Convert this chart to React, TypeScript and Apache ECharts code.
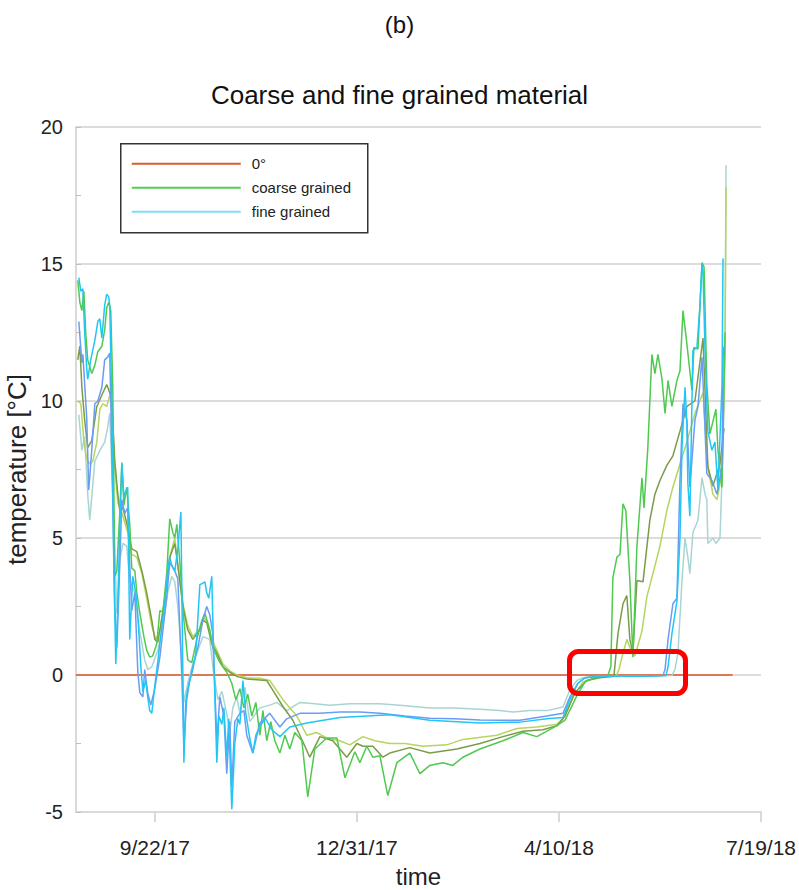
import React, { useEffect, useRef } from "react";
import * as echarts from "echarts";

// x values are days counted from 9/22/17
const tickDays = [0, 100, 200, 300];
const tickLabels = ["9/22/17", "12/31/17", "4/10/18", "7/19/18"];

const zeroLine: [number, number][] = [[-39, 0], [286, 0]];

const coarseGreen: [number, number][] = [
  [-38.1, 14.4], [-37.1, 13.6], [-36.1, 13.3], [-35.1, 14.0], [-34.2, 12.5], [-33.2, 11.5], [-31.2, 11.0], [-29.7, 11.3],
  [-28.2, 11.8], [-26.2, 12.0], [-24.8, 12.6], [-23.8, 13.4], [-22.8, 13.6], [-21.8, 13.3], [-20.8, 10.5], [-19.8, 3.6],
  [-18.8, 3.8], [-17.3, 6.0], [-16.3, 7.75], [-15.3, 6.2], [-13.9, 6.85], [-12.4, 5.5], [-11.4, 3.9], [-9.9, 3.8],
  [-8.9, 3.0], [-7.4, 2.25], [-5.4, 1.4], [-4.0, 0.9], [-2.5, 0.65], [-1.0, 0.7], [1.0, 1.15], [2.5, 2.35], [4.0, 2.3],
  [5.9, 3.7], [7.4, 5.7], [8.9, 5.2], [9.9, 5.0], [10.9, 5.5], [12.4, 4.1], [14.4, 2.0], [16.3, 0.55], [18.3, 0.45],
  [20.8, 1.3], [23.3, 2.0], [24.8, 2.25], [27.2, 1.65], [28.7, 1.0], [32.2, 0.45], [35.6, 0.1], [38.1, -0.3],
  [40.1, -0.9], [42.1, -0.5], [44.1, -1.2], [46.0, -0.7], [48.0, -1.5], [50.0, -1.0], [52.0, -2.2], [53.5, -1.3],
  [55.4, -2.4], [57.4, -1.7], [59.4, -2.4], [61.9, -2.85], [64.4, -2.2], [66.8, -2.7], [69.3, -2.1], [72.8, -2.4],
  [75.7, -4.45], [79.2, -2.7], [85.1, -2.3], [90.1, -2.3], [94.1, -3.75], [99.0, -2.8], [101.5, -3.2], [104.9, -2.6],
  [107.9, -3.0], [111.4, -2.95], [115.3, -4.4], [119.8, -3.2], [126.2, -2.85], [131.2, -3.6], [136.1, -3.3],
  [142.6, -3.2], [147.5, -3.3], [152.5, -3.0], [160.9, -2.7], [172.3, -2.4], [182.2, -2.1], [189.1, -2.25],
  [199.0, -1.85], [203.0, -1.65], [208.9, -0.75], [212.9, -0.25], [217.8, -0.1], [224.2, -0.02], [225.7, 0.3],
  [226.7, 3.55], [228.7, 4.3], [230.2, 4.4], [231.7, 6.25], [233.1, 6.0], [235.1, 3.45], [236.6, 0.65], [238.6, 4.7],
  [241.1, 7.2], [242.1, 6.1], [244.0, 8.3], [246.0, 11.7], [247.5, 11.0], [249.0, 11.7], [251.0, 10.8], [252.5, 9.55],
  [254.0, 10.75], [255.9, 9.8], [258.4, 10.75], [259.9, 11.1], [261.4, 13.3], [263.3, 12.1], [265.8, 10.4],
  [266.8, 11.95], [268.8, 11.9], [270.8, 15.05], [271.8, 14.9], [273.2, 10.6], [274.7, 8.8], [277.7, 9.7],
  [278.7, 8.2], [280.7, 6.85], [281.7, 10.6], [282.2, 12.5],
];

const coarseOlive: [number, number][] = [
  [-38.1, 11.5], [-37.1, 12.0], [-36.1, 10.5], [-34.7, 9.3], [-33.2, 8.3], [-31.2, 8.55], [-28.7, 9.8], [-25.7, 10.3],
  [-23.8, 10.6], [-22.3, 10.3], [-21.3, 10.0], [-19.8, 7.8], [-18.3, 6.6], [-17.3, 6.0], [-15.8, 6.1], [-13.4, 5.4],
  [-11.4, 4.6], [-8.9, 4.5], [-6.4, 3.8], [-4.0, 3.0], [-1.5, 2.0], [0, 1.3], [1.5, 1.2], [4.0, 2.3], [5.9, 3.3],
  [7.4, 4.3], [9.9, 4.8], [11.4, 4.0], [13.9, 2.5], [16.3, 1.65], [18.8, 1.3], [22.3, 1.65], [23.8, 2.0], [25.7, 1.9],
  [28.2, 1.15], [30.7, 0.8], [33.7, 0.3], [37.1, 0.1], [40.6, -0.05], [45.5, -0.15], [52.0, -0.18], [55.4, -0.2],
  [58.4, -0.55], [63.4, -1.15], [68.3, -1.65], [71.8, -2.2], [74.3, -2.6], [76.7, -3.0], [81.7, -2.25], [88.1, -2.4],
  [95.0, -3.0], [100.0, -2.5], [103.0, -2.6], [107.9, -2.6], [112.9, -3.0], [116.3, -2.85], [126.2, -2.65],
  [136.1, -2.85], [149.5, -2.7], [160.9, -2.5], [172.3, -2.25], [182.2, -2.05], [192.1, -2.0], [199.0, -1.85],
  [203.0, -1.5], [207.9, -0.65], [213.8, -0.2], [220.3, -0.1], [227.2, -0.05], [229.2, 1.5], [231.7, 2.6],
  [233.6, 2.9], [235.1, 1.3], [236.6, 0.8], [238.6, 3.45], [241.6, 3.4], [245.0, 5.65], [247.5, 6.6], [250.0, 7.1],
  [253.4, 7.65], [256.4, 8.0], [259.9, 8.9], [263.3, 9.8], [267.3, 10.0], [271.3, 12.3], [273.7, 7.6], [276.2, 6.9],
  [279.7, 7.7], [281.7, 9.0],
];

const coarseYellow: [number, number][] = [
  [-38.1, 10.0], [-36.6, 9.9], [-35.1, 8.5], [-33.7, 7.9], [-32.2, 7.7], [-30.7, 7.8], [-28.7, 8.5], [-27.2, 9.7],
  [-25.7, 9.9], [-23.8, 9.8], [-22.3, 10.2], [-21.3, 9.9], [-19.8, 7.5], [-18.3, 6.3], [-15.8, 5.8], [-13.4, 5.2],
  [-11.4, 4.4], [-8.9, 4.3], [-6.4, 3.7], [-4.0, 2.8], [-1.5, 1.8], [0.5, 1.3], [2.5, 1.6], [5.0, 2.8], [7.4, 4.3],
  [9.9, 5.0], [11.4, 4.0], [13.9, 2.6], [16.3, 1.8], [18.8, 1.4], [22.3, 1.7], [24.3, 2.1], [26.2, 1.9], [28.2, 1.3],
  [30.7, 0.9], [33.7, 0.4], [37.1, 0.15], [40.6, 0.0], [45.5, -0.1], [52.0, -0.12], [56.9, -0.2], [63.4, -0.9],
  [70.3, -1.5], [75.2, -2.2], [80.2, -2.1], [85.1, -2.3], [91.6, -2.4], [96.5, -2.55], [103.0, -2.25], [108.9, -2.4],
  [116.3, -2.5], [123.8, -2.5], [132.7, -2.6], [144.5, -2.55], [152.5, -2.35], [169.3, -2.2], [179.2, -1.95],
  [189.1, -1.9], [199.0, -1.8], [202.0, -1.6], [206.9, -0.8], [211.9, -0.25], [217.8, -0.1], [228.2, -0.05],
  [229.7, 0.2], [231.2, 0.65], [233.6, 1.3], [236.1, 0.8], [237.6, 0.7], [241.1, 1.6], [243.5, 2.85], [246.5, 3.7],
  [250.0, 4.7], [253.4, 6.0], [256.4, 6.85], [259.9, 7.7], [263.3, 8.5], [267.3, 9.55], [271.3, 10.3], [273.7, 7.6],
  [276.2, 6.6], [278.2, 6.4], [280.7, 7.35], [282.2, 12.0], [282.7, 17.8],
];

const fineTeal: [number, number][] = [
  [-37.6, 9.5], [-36.1, 8.2], [-34.7, 8.7], [-33.2, 6.6], [-32.2, 5.65], [-31.2, 6.5], [-29.7, 7.8], [-27.2, 8.2],
  [-24.8, 8.5], [-23.3, 9.05], [-22.3, 9.55], [-20.8, 6.6], [-18.8, 2.25], [-17.3, 4.2], [-15.8, 4.8], [-13.9, 4.7],
  [-12.4, 3.45], [-9.9, 3.0], [-8.4, 2.0], [-6.4, 1.15], [-5.0, 0.55], [-3.5, 0.2], [-1.5, 0.3], [1.5, 0.9], [4.0, 1.8],
  [6.4, 3.0], [8.4, 3.6], [9.9, 3.4], [11.4, 2.5], [13.4, 0.5], [14.4, -1.0], [16.3, -0.3], [18.8, 0.4], [21.3, 0.9],
  [23.8, 1.4], [27.2, 1.3], [28.7, 0.3], [31.2, -0.9], [33.2, -0.6], [35.6, -1.4], [37.1, -2.1], [38.6, -1.2],
  [40.6, -0.8], [42.1, -1.4], [44.6, -0.45], [47.0, -1.7], [50.5, -1.35], [52.0, -1.2], [56.9, -1.1], [60.4, -1.0],
  [65.3, -1.3], [71.8, -1.0], [79.2, -1.05], [86.6, -1.1], [96.5, -1.05], [111.4, -1.05], [121.3, -1.1],
  [136.1, -1.2], [148.5, -1.2], [160.9, -1.25], [170.8, -1.3], [177.2, -1.35], [185.6, -1.3], [194.0, -1.3],
  [202.0, -1.17], [205.4, -0.55], [208.9, -0.2], [211.9, -0.1], [220.3, -0.05], [240.1, -0.05], [255.9, -0.02],
  [257.4, 0.2], [258.9, 0.8], [260.9, 3.45], [262.4, 5.0], [263.8, 4.3], [264.8, 3.7], [266.3, 5.2], [268.8, 5.65],
  [270.8, 7.2], [272.3, 6.6], [273.2, 6.4], [273.7, 4.8], [276.2, 5.0], [277.7, 4.8], [279.7, 5.0], [281.2, 8.3],
  [282.2, 12.0], [282.7, 18.6],
];

const fineBlue: [number, number][] = [
  [-37.6, 12.9], [-36.1, 11.4], [-35.6, 11.7], [-33.7, 9.4], [-32.7, 6.75], [-31.2, 8.2], [-29.7, 9.9], [-28.2, 10.0],
  [-26.2, 10.5], [-24.8, 11.5], [-23.3, 11.6], [-22.3, 11.75], [-21.3, 8.2], [-19.8, 2.5], [-18.8, 1.0], [-17.8, 3.0],
  [-16.3, 6.4], [-14.9, 5.9], [-13.4, 6.1], [-12.4, 4.0], [-11.4, 2.35], [-9.9, 3.0], [-8.4, 0.1], [-7.4, -0.65],
  [-5.9, -0.8], [-5.0, 0.2], [-3.5, -0.65], [-2.0, -1.1], [0, -0.5], [2.5, 0.65], [5.9, 2.85], [7.4, 4.1], [9.9, 3.8],
  [11.4, 3.5], [13.4, -0.1], [14.4, -2.6], [15.8, -0.9], [17.3, -0.2], [18.8, 0.3], [21.3, 1.0], [23.8, 2.0],
  [25.7, 2.5], [27.2, 2.2], [28.7, 1.5], [30.7, -2.4], [32.2, -0.8], [34.2, -1.5], [35.6, -3.6], [37.1, -1.7],
  [38.1, -4.1], [39.6, -1.7], [42.1, -1.4], [44.1, -1.3], [45.5, -2.2], [48.5, -2.85], [52.0, -1.75], [56.9, -1.4],
  [61.9, -1.9], [65.3, -1.6], [71.8, -1.4], [81.7, -1.4], [91.6, -1.35], [101.5, -1.35], [111.4, -1.4], [123.8, -1.5],
  [136.1, -1.58], [148.5, -1.6], [160.9, -1.64], [170.8, -1.65], [180.7, -1.65], [194.0, -1.5], [202.0, -1.4],
  [205.4, -0.8], [209.4, -0.3], [212.9, -0.1], [220.3, -0.05], [240.1, -0.05], [251.5, -0.02], [252.5, 0.2],
  [254.0, 1.3], [256.4, 2.6], [258.4, 2.8], [259.9, 7.1], [261.4, 9.9], [263.3, 9.3], [264.8, 6.85], [267.3, 9.3],
  [268.8, 9.8], [270.8, 11.6], [273.2, 7.35], [275.7, 7.1], [278.2, 6.6], [280.7, 7.6], [281.2, 11.5], [281.7, 12.0],
];

const fineCyan: [number, number][] = [
  [-37.6, 14.5], [-36.6, 14.0], [-35.6, 14.1], [-34.7, 12.5], [-33.7, 11.2], [-33.2, 10.8], [-31.7, 11.5],
  [-29.7, 12.2], [-28.2, 12.9], [-27.2, 13.0], [-26.2, 12.3], [-24.8, 13.5], [-23.8, 13.9], [-22.8, 13.8],
  [-22.3, 13.5], [-21.3, 10.0], [-20.3, 4.0], [-19.3, 0.4], [-18.3, 2.5], [-17.3, 5.5], [-16.3, 7.7], [-15.3, 6.5],
  [-14.4, 6.7], [-13.4, 6.85], [-12.4, 1.3], [-10.9, 3.6], [-9.4, 3.0], [-8.4, 2.2], [-6.9, 0.3], [-5.9, -0.6],
  [-4.5, -0.2], [-3.5, -0.8], [-2.5, -1.3], [-1.5, -1.4], [0, -0.4], [1.5, 0.5], [3.5, 1.8], [5.0, 2.6], [6.4, 3.8],
  [7.4, 4.3], [8.4, 4.0], [9.9, 3.8], [11.4, 4.6], [12.9, 5.95], [13.4, 3.0], [14.4, -3.2], [15.3, -1.0],
  [16.3, -0.5], [17.3, -0.2], [18.8, 0.2], [20.3, 0.8], [22.3, 3.3], [23.8, 3.35], [24.8, 3.4], [25.7, 3.0],
  [26.7, 2.8], [28.2, 3.6], [29.2, 0.5], [30.7, -3.2], [31.7, -1.5], [33.2, -1.8], [34.2, -1.2], [35.6, -3.0],
  [36.6, -1.6], [38.1, -4.9], [39.6, -2.5], [41.1, -1.6], [42.1, -1.8], [43.6, -0.2], [45.0, -1.4], [47.0, -2.3],
  [48.5, -2.85], [50.0, -2.2], [52.0, -1.85], [54.9, -1.6], [57.9, -2.0], [61.9, -2.25], [66.8, -1.9],
  [75.2, -1.75], [91.6, -1.55], [116.3, -1.45], [136.1, -1.65], [160.9, -1.75], [180.7, -1.72], [194.0, -1.6],
  [202.0, -1.55], [205.4, -0.9], [209.4, -0.3], [212.9, -0.1], [220.3, -0.05], [240.1, -0.05], [253.0, -0.02],
  [254.0, 0.3], [255.9, 1.5], [258.4, 2.7], [259.9, 5.0], [260.9, 8.3], [262.4, 10.5], [263.3, 9.2], [263.8, 7.0],
  [264.8, 5.8], [266.3, 11.85], [268.3, 11.95], [269.8, 13.5], [270.8, 15.0], [271.3, 14.7], [272.3, 11.85],
  [273.7, 8.9], [275.7, 8.2], [277.2, 8.5], [278.7, 6.75], [280.7, 10.6], [281.2, 15.2],
];

const FONT = "'Liberation Sans', Arial, sans-serif";

function line(name: string, data: [number, number][], color: string, width = 1.5) {
  return {
    type: "line",
    name,
    data,
    symbol: "none",
    showSymbol: false,
    silent: true,
    lineStyle: { color, width },
    itemStyle: { color },
  };
}

export default function App() {
  const ref = useRef<HTMLDivElement>(null);

  useEffect(() => {
    if (!ref.current) return;
    const chart = echarts.init(ref.current, undefined, { renderer: "svg" });
    const legendItems = [
      { label: "0°", color: "#dc5a2c" },
      { label: "coarse grained", color: "#55cc55" },
      { label: "fine grained", color: "#7fdcfa" },
    ];
    chart.setOption({
      animation: false,
      backgroundColor: "#ffffff",
      textStyle: { fontFamily: FONT },
      title: [
        {
          text: "(b)",
          left: "center",
          top: 7,
          textStyle: { fontSize: 24, fontWeight: "normal", color: "#111", fontFamily: FONT },
        },
        {
          text: "Coarse and fine grained material",
          left: "center",
          top: 77,
          textStyle: { fontSize: 26, fontWeight: "normal", color: "#111", fontFamily: FONT },
        },
      ],
      grid: {
        left: 76,
        right: 38,
        top: 127,
        bottom: 78,
        containLabel: false,
        outerBoundsMode: "none",
      },
      xAxis: {
        type: "value",
        min: -39,
        max: 300,
        name: "time",
        nameLocation: "middle",
        nameGap: 52,
        nameTextStyle: { fontSize: 24, color: "#222", fontFamily: FONT },
        axisLine: { show: true, onZero: false, lineStyle: { color: "#d9d9d9", width: 2 } },
        axisTick: { show: true, customValues: tickDays, length: 10, lineStyle: { color: "#d9d9d9", width: 2 } },
        axisLabel: {
          customValues: tickDays,
          formatter: (v: number) => tickLabels[tickDays.indexOf(Math.round(v))] ?? "",
          margin: 25,
          fontSize: 21,
          color: "#222",
          fontFamily: FONT,
        },
        splitLine: { show: false },
      },
      yAxis: {
        type: "value",
        min: -5,
        max: 20,
        interval: 5,
        name: "temperature [°C]",
        nameLocation: "middle",
        nameGap: 43,
        nameTextStyle: { fontSize: 26, color: "#222", fontFamily: FONT },
        axisLine: { show: true, onZero: false, lineStyle: { color: "#d9d9d9", width: 2 } },
        axisTick: { show: true, inside: true, length: 5, lineStyle: { color: "#bfbfbf", width: 1 } },
        minorTick: { show: true, splitNumber: 2, length: 5, lineStyle: { color: "#bfbfbf", width: 1 } },
        axisLabel: { fontSize: 20, margin: 13, color: "#222", fontFamily: FONT },
        splitLine: { show: true, lineStyle: { color: "#dcdcdc", width: 2 } },
      },
      series: [
        line("0°", zeroLine, "#dc5a2c", 1.5),
        line("fine grained (3)", fineTeal, "#a8d5d3"),
        line("coarse grained (3)", coarseYellow, "#b4d55e"),
        line("coarse grained (2)", coarseOlive, "#7c9b48"),
        line("coarse grained", coarseGreen, "#4fc94f"),
        line("fine grained (2)", fineBlue, "#6a9cf5"),
        line("fine grained", fineCyan, "#22c6f3"),
      ],
      graphic: [
        {
          type: "group",
          left: 120,
          top: 143,
          children: [
            {
              type: "rect",
              shape: { x: 0, y: 0, width: 247, height: 89 },
              style: { fill: "#ffffff", stroke: "#333333", lineWidth: 1.5 },
            },
            ...legendItems.flatMap((it, i) => [
              {
                type: "line",
                shape: { x1: 11, y1: 20 + i * 24, x2: 120, y2: 20 + i * 24 },
                style: { stroke: it.color, lineWidth: 2 },
              },
              {
                type: "text",
                x: 131,
                y: 20 + i * 24,
                style: {
                  text: it.label,
                  fill: "#222",
                  font: `15px ${FONT}`,
                  verticalAlign: "middle",
                },
              },
            ]),
          ],
        },
        {
          type: "rect",
          shape: { x: 569.5, y: 651.5, width: 116, height: 42, r: 9 },
          style: { fill: "none", stroke: "#ff0000", lineWidth: 5 },
          z: 100,
        },
      ],
    });
    return () => chart.dispose();
  }, []);

  return (
    <div
      ref={ref}
      style={{ position: "absolute", left: 0, top: 0, width: 799, height: 890 }}
    />
  );
}
